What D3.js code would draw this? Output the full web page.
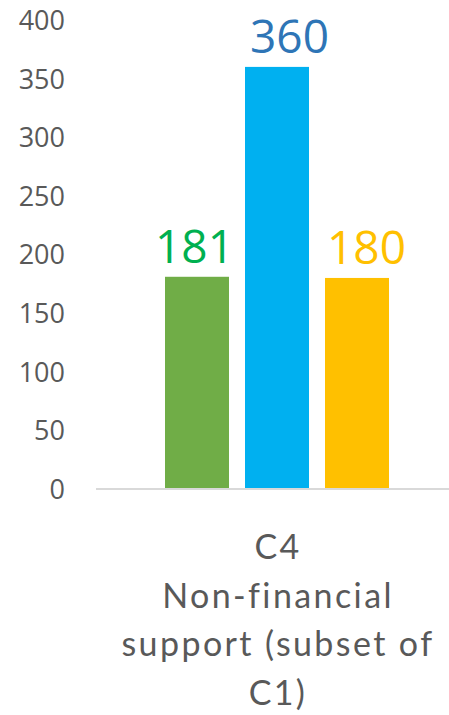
<!DOCTYPE html>
<html>
<head>
<meta charset="utf-8">
<script src="https://cdn.jsdelivr.net/npm/d3@7/dist/d3.min.js"></script>
<style>
  html, body { margin: 0; padding: 0; background: #fff; }
  svg { display: block; }
</style>
</head>
<body>
<script>
// Chart data
const categories = ["C4"];
const categoryLines = ["C4", "Non-financial", "support (subset of", "C1)"];
const series = ["A", "B", "C"];
const values = [181, 360, 180];
const yTicks = [0, 50, 100, 150, 200, 250, 300, 350, 400];

// Styling per series
const barColors = ["#70AD47", "#00B0F0", "#FFC000"];
const labelColors = ["#00B050", "#2E75B6", "#FFC000"];
const labelDx = [-2.5, 12.5, 9.5];

const W = 449, H = 715;
const svg = d3.select("body").append("svg")
  .attr("width", W).attr("height", H);

const y = d3.scaleLinear().domain([0, 400]).range([489, 20]);

const x0 = d3.scaleBand().domain(categories).range([96, 458]);
const groupCenter = x0(categories[0]) + x0.bandwidth() / 2;
const x1 = d3.scaleBand().domain(series)
  .range([groupCenter - 112, groupCenter + 112])
  .paddingInner(0.2).paddingOuter(0);

// Y axis tick labels
const yAxis = d3.axisLeft(y).tickValues(yTicks).tickSize(0).tickPadding(0);
const gy = svg.append("g").attr("transform", "translate(65,0)").call(yAxis);
gy.select(".domain").remove();
gy.selectAll("text")
  .attr("font-family", "'Open Sans', sans-serif")
  .attr("font-size", 27)
  .attr("fill", "#595959")
  .attr("dy", "0.35em");

// Baseline
svg.append("line")
  .attr("x1", x0.range()[0]).attr("x2", x0.range()[1])
  .attr("y1", y(0)).attr("y2", y(0))
  .attr("stroke", "#D9D9D9").attr("stroke-width", 2);

// Bars
svg.append("g").selectAll("rect")
  .data(values)
  .join("rect")
  .attr("x", (d, i) => x1(series[i]))
  .attr("width", x1.bandwidth())
  .attr("y", d => y(d))
  .attr("height", d => y(0) - y(d) - 1)
  .attr("fill", (d, i) => barColors[i]);

// Value labels
svg.append("g").selectAll("text")
  .data(values)
  .join("text")
  .attr("x", (d, i) => x1(series[i]) + x1.bandwidth() / 2 + labelDx[i])
  .attr("y", d => y(d) - 14)
  .attr("text-anchor", "middle")
  .attr("font-family", "'Open Sans', sans-serif")
  .attr("font-size", 46)
  .attr("fill", (d, i) => labelColors[i])
  .text(d => d);

// Category label
svg.append("text")
  .attr("text-anchor", "middle")
  .attr("font-family", "Lato, sans-serif")
  .attr("font-size", 34)
  .attr("letter-spacing", 2.4)
  .attr("font-variant-ligatures", "none")
  .style("font-variant-ligatures", "none")
  .attr("fill", "#595959")
  .selectAll("tspan")
  .data(categoryLines)
  .join("tspan")
  .attr("x", groupCenter + 1)
  .attr("y", (d, i) => 559 + i * 48.7)
  .text(d => d);
</script>
</body>
</html>
